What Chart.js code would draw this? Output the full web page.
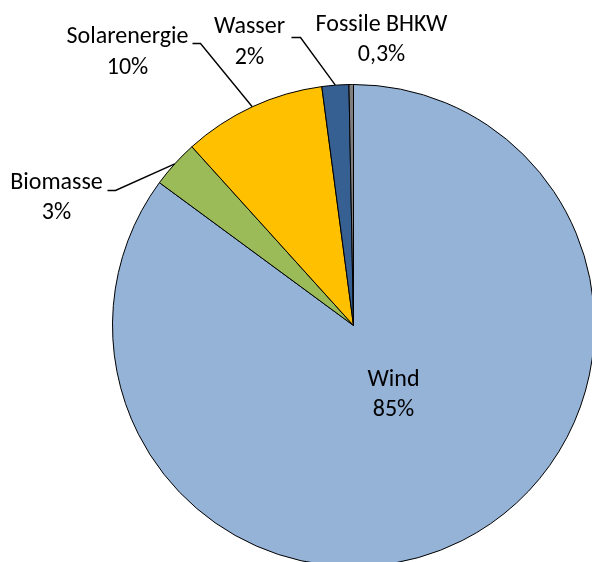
<!DOCTYPE html>
<html>
<head>
<meta charset="utf-8">
<script src="https://cdn.jsdelivr.net/npm/chart.js@4.4.0/dist/chart.umd.min.js"></script>
<style>
  html, body { margin: 0; padding: 0; background: #fff; width: 592px; height: 562px; overflow: hidden; }
  #wrap { position: absolute; left: 0; top: 0; width: 600px; height: 572px; }
</style>
</head>
<body>
<div id="wrap"><canvas id="pie" width="600" height="572"></canvas></div>
<script>
// ─── Data ──────────────────────────────────────────
const labels   = ['Wind', 'Biomasse', 'Solarenergie', 'Wasser', 'Fossile BHKW'];
const shares   = [85.1, 3.2, 9.6, 1.8, 0.3];
const pctText  = ['85%', '3%', '10%', '2%', '0,3%'];
const colors   = ['#95B3D7', '#9BBB59', '#FFC000', '#376092', '#7F7F7F'];

// label placement, relative to the pie centre (baselines of line 1 / line 2)
const labelPos = [
  { dx: 40,   y1: 60,   y2: 90 },
  { dx: -297, y1: -137, y2: -107 },
  { dx: -226, y1: -283, y2: -252 },
  { dx: -104, y1: -293, y2: -262 },
  { dx: 28,   y1: -295, y2: -265 }
];
// leader lines: horizontal stub start/end, relative to centre (null = none)
const leaders = [
  null,
  { x0: -246, x1: -238, y: -135 },
  { x0: -161, x1: -153, y: -282 },
  { x0: -62,  x1: -53,  y: -288 },
  null
];

const FONT = '24px Carlito, Lato, sans-serif';

// ─── Labels plugin ─────────────────────────────────
const pieLabels = {
  id: 'pieLabels',
  afterDatasetsDraw(chart) {
    const ctx = chart.ctx;
    const arcs = chart.getDatasetMeta(0).data;
    const cx = arcs[0].x, cy = arcs[0].y;
    ctx.save();

    // leader lines
    ctx.strokeStyle = '#000';
    ctx.lineWidth = 1.4;
    arcs.forEach((a, i) => {
      const l = leaders[i];
      if (!l) return;
      const mid = (a.startAngle + a.endAngle) / 2;
      const ex = a.x + Math.cos(mid) * a.outerRadius;
      const ey = a.y + Math.sin(mid) * a.outerRadius;
      ctx.beginPath();
      ctx.moveTo(cx + l.x0, cy + l.y);
      ctx.lineTo(cx + l.x1, cy + l.y);
      ctx.lineTo(ex, ey);
      ctx.stroke();
    });

    // texts
    ctx.fillStyle = '#000';
    ctx.font = FONT;
    ctx.textAlign = 'center';
    ctx.textBaseline = 'alphabetic';
    labels.forEach((name, i) => {
      const p = labelPos[i];
      ctx.fillText(name, cx + p.dx, cy + p.y1);
      ctx.fillText(pctText[i], cx + p.dx, cy + p.y2);
    });
    ctx.restore();
  }
};

new Chart(document.getElementById('pie'), {
  type: 'pie',
  data: {
    labels: labels,
    datasets: [{
      data: shares,
      backgroundColor: colors,
      borderColor: '#000',
      borderWidth: 1
    }]
  },
  options: {
    responsive: false,
    animation: false,
    layout: { padding: { left: 112, top: 84, right: 5, bottom: 5 } },
    plugins: { legend: { display: false }, tooltip: { enabled: false } }
  },
  plugins: [pieLabels]
});
</script>
</body>
</html>
